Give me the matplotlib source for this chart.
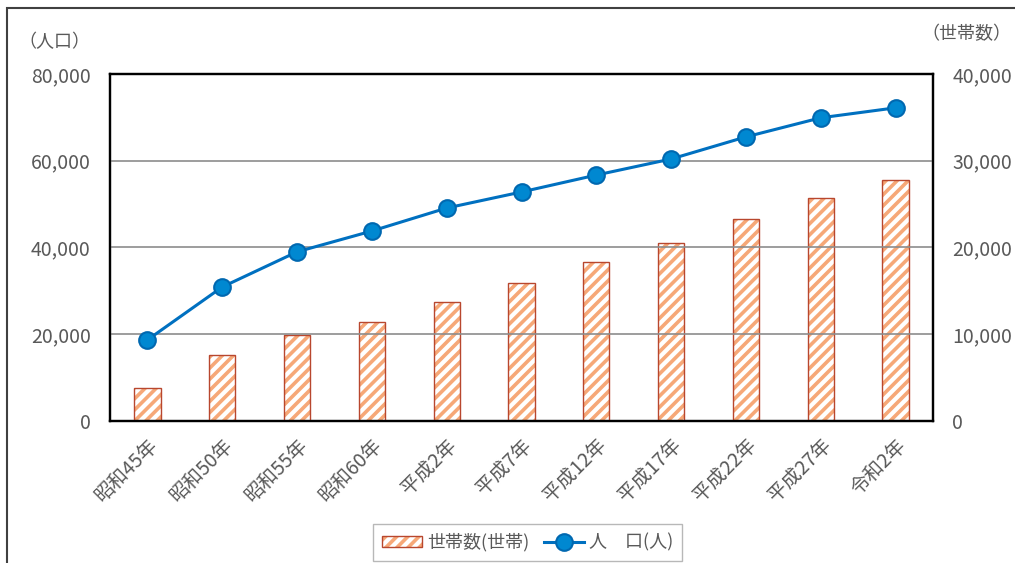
import matplotlib.pyplot as plt
import numpy as np
from matplotlib.patches import Rectangle, Patch

plt.rcParams['font.family'] = ['Noto Sans CJK JP', 'DejaVu Sans']
plt.rcParams['font.size'] = 13
plt.rcParams['hatch.linewidth'] = 2.6

years = ['昭和45年', '昭和50年', '昭和55年', '昭和60年', '平成2年', '平成7年',
         '平成12年', '平成17年', '平成22年', '平成27年', '令和2年']
population = [18700, 30900, 39000, 43800, 49100, 52800, 56700, 60400, 65500, 69900, 72200]
households = [3800, 7600, 9900, 11400, 13700, 15900, 18300, 20500, 23300, 25700, 27800]

gray = '#595959'
x = np.arange(len(years))

fig = plt.figure(figsize=(10.15, 5.63), dpi=100)
ax = fig.add_axes([0.1084, 0.2522, 0.8108, 0.6164])
ax2 = ax.twinx()

# households (bars) on the right axis, drawn as hatch + outline
ax2.bar(x, households, width=0.35, color='white', edgecolor='#F6A878',
        hatch='///', linewidth=0, zorder=2)
ax2.bar(x, households, width=0.35, fill=False, edgecolor='#B8472E',
        linewidth=1.0, zorder=3)

ax.set_zorder(ax2.get_zorder() + 1)
ax.patch.set_visible(False)
line, = ax.plot(x, population, color='#0070C0', linewidth=2.2, marker='o',
                markersize=12, markerfacecolor='#0088D1', markeredgecolor='#0068B0',
                markeredgewidth=1.5, zorder=5)

ax.set_ylim(0, 80000)
ax2.set_ylim(0, 40000)
ax.set_xlim(-0.5, len(years) - 0.5)
ax.set_yticks(np.arange(0, 80001, 20000))
ax2.set_yticks(np.arange(0, 40001, 10000))
ax.yaxis.set_major_formatter(plt.FuncFormatter(lambda v, p: f'{int(v):,}'))
ax2.yaxis.set_major_formatter(plt.FuncFormatter(lambda v, p: f'{int(v):,}'))

for v in [20000, 40000, 60000]:
    ax.axhline(v, color='#8C8C8C', linewidth=1.2, zorder=0)

ax.set_xticks(x)
ax.set_xticklabels(years, rotation=45, ha='right', rotation_mode='anchor',
                   color=gray, fontsize=14)
ax.tick_params(axis='x', length=0, pad=10)
ax.tick_params(axis='y', length=0, pad=14, colors=gray, labelsize=14)
ax2.tick_params(axis='y', length=0, pad=14, colors=gray, labelsize=14)

for a in (ax, ax2):
    for s in a.spines.values():
        s.set_linewidth(1.6)
        s.set_color('black')

fig.text(0.054, 0.925, '（人口）', color=gray, ha='center', va='center', fontsize=13)
fig.text(0.952, 0.94, '（世帯数）', color=gray, ha='center', va='center', fontsize=13)

hatch_h = Patch(facecolor='white', edgecolor='#F6A878', hatch='///', linewidth=0)
edge_h = Patch(fill=False, edgecolor='#B8472E', linewidth=1)
leg = fig.legend([(hatch_h, edge_h), line], ['世帯数(世帯)', '人\u3000口(人)'],
                 loc='upper center', ncol=2,
                 bbox_to_anchor=(0.52, 0.085), frameon=True, fancybox=False,
                 edgecolor='#A6A6A6', fontsize=13, handlelength=2.2, handleheight=0.5,
                 columnspacing=0.8, handletextpad=0.3, borderpad=0.5)
for t in leg.get_texts():
    t.set_color(gray)

fig.patches.append(Rectangle((7 / 1015, -0.1), 1.2, 1 - 8 / 563 + 0.1,
                             transform=fig.transFigure, fill=False,
                             edgecolor='#404040', linewidth=1.5))

fig.savefig('out.png', dpi=100)
